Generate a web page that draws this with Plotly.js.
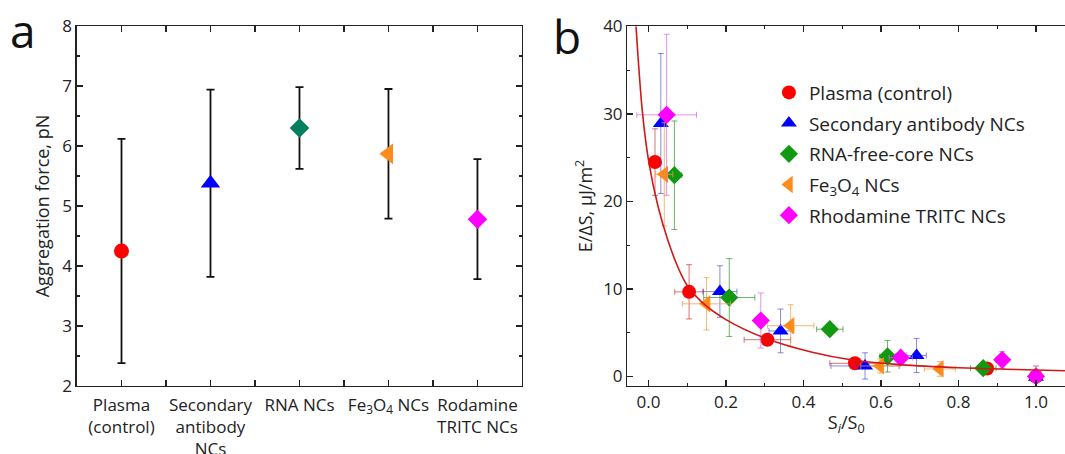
<!DOCTYPE html>
<html>
<head>
<meta charset="utf-8">
<script src="https://cdn.plot.ly/plotly-3.0.1.min.js"></script>
<style>html,body{margin:0;padding:0;background:#fff;}#chart{width:1065px;height:454px;}</style>
</head>
<body>
<div id="chart"></div>
<script>
// ---------- Panel a data ----------
const categoriesA = ["Plasma<br>(control)", "Secondary<br>antibody<br>NCs", "RNA NCs", "Fe<sub>3</sub>O<sub>4</sub> NCs", "Rodamine<br>TRITC NCs"];
const forceA = [4.25, 5.38, 6.30, 5.87, 4.78];
const forceErrA = [1.87, 1.56, 0.68, 1.08, 1.00];
const colorsA = ["#FF0000", "#0000FF", "#008060", "#FF8C1A", "#FF00FF"];
const symbolsA = ["circle", "triangle-up", "diamond", "triangle-left", "diamond"];

// ---------- Panel b data ----------
const plasmaX = [0.017, 0.105, 0.307, 0.533, 0.874, 1.0];
const plasmaY = [24.5, 9.67, 4.2, 1.5, 0.9, 0.0];
const plasmaXerr = [0, 0.037, 0.06, 0.065, 0, 0];
const plasmaYerr = [3.8, 3.1, 0.4, 0.4, 0.4, 1.2];

const secX = [0.032, 0.1845, 0.341, 0.559, 0.692, 1.0];
const secY = [28.9, 9.7, 5.2, 1.2, 2.4, -0.1];
const secXerr = [0, 0.044, 0.03, 0.088, 0.025, 0];
const secYerr = [8.0, 2.95, 2.5, 1.5, 1.95, 0.3];

const rnaX = [0.067, 0.2086, 0.468, 0.617, 0.864];
const rnaY = [23.0, 9.02, 5.4, 2.3, 0.95];
const rnaXerr = [0.019, 0.066, 0.034, 0.02, 0.033];
const rnaYerr = [6.2, 4.45, 0.3, 1.8, 0.3];

const feX = [0.041, 0.15, 0.367, 0.598, 0.752];
const feY = [23.1, 8.3, 5.8, 1.2, 0.86];
const feXerr = [0.022, 0.062, 0.06, 0.05, 0.04];
const feYerr = [5.9, 3.0, 2.4, 0.8, 0.85];

const rhoX = [0.047, 0.29, 0.651, 0.913, 1.0];
const rhoY = [29.9, 6.39, 2.15, 1.9, 0.0];
const rhoXerr = [0.077, 0, 0.03, 0, 0];
const rhoYerr = [9.2, 3.15, 0.5, 0.95, 0.3];

// fitted curve, points
const fitX = [-0.032, -0.015, 0.001, 0.025, 0.05, 0.075, 0.10, 0.14, 0.20, 0.30, 0.42, 0.53, 0.65, 0.80, 0.95, 1.075];
const fitY = [40, 30.0, 24.5, 19.4, 15.6, 12.6, 10.4, 8.4, 6.5, 4.4, 2.8, 1.85, 1.35, 1.0, 0.8, 0.65];

const FONT = "Open Sans, Noto Sans, sans-serif";
const catIdx = categoriesA.map((c, i) => i);

function series(name, x, y, xe, ye, color, errColor, symbol, size) {
  return {
    type: "scatter", mode: "markers", name: name, x: x, y: y,
    xaxis: "x2", yaxis: "y2", legendgroup: name,
    marker: {color: color, symbol: symbol, size: size, opacity: 1, line: {width: 0}},
    error_x: {type: "data", array: xe, visible: true, color: errColor, thickness: 1, width: 3},
    error_y: {type: "data", array: ye, visible: true, color: errColor, thickness: 1, width: 3}
  };
}

const traces = [
  {
    type: "scatter", mode: "markers", x: catIdx, y: forceA, xaxis: "x", yaxis: "y",
    showlegend: false,
    marker: {color: colorsA, symbol: symbolsA, size: [15, 17, 15, 18, 15], opacity: 1, line: {width: 0}},
    error_y: {type: "data", array: forceErrA, visible: true, color: "#111", thickness: 1.8, width: 4}
  },
  series("Plasma (control)", plasmaX, plasmaY, plasmaXerr, plasmaYerr, "#FF0000", "rgba(200,40,40,0.65)", "circle", 14),
  series("Secondary antibody NCs", secX, secY, secXerr, secYerr, "#0000FF", "rgba(60,60,200,0.6)", "triangle-up", 14),
  series("RNA-free-core NCs", rnaX, rnaY, rnaXerr, rnaYerr, "#119911", "rgba(30,140,30,0.65)", "diamond", 14),
  series("Fe<sub>3</sub>O<sub>4</sub> NCs", feX, feY, feXerr, feYerr, "#FF8C1A", "rgba(240,160,70,0.75)", "triangle-left", 15),
  series("Rhodamine TRITC NCs", rhoX, rhoY, rhoXerr, rhoYerr, "#FF00FF", "rgba(220,110,220,0.75)", "diamond", 14),
  {
    type: "scatter", mode: "lines", x: fitX, y: fitY, xaxis: "x2", yaxis: "y2",
    showlegend: false, line: {color: "#D01818", width: 1.6, shape: "spline", smoothing: 1.0}
  }
];

const axisCommon = {
  showline: true, linewidth: 1.5, linecolor: "#222", showgrid: false, zeroline: false,
  ticks: "inside", ticklen: 6, tickwidth: 1.3, tickcolor: "#222",
  tickfont: {family: FONT, size: 17, color: "#222"}
};

const layout = {
  width: 1065, height: 454,
  margin: {l: 0, r: 0, t: 0, b: 0},
  paper_bgcolor: "#fff", plot_bgcolor: "#fff",
  font: {family: FONT, size: 16, color: "#222"},
  showlegend: true,
  xaxis: Object.assign({}, axisCommon, {
    domain: [0.0723, 0.4901], range: [-0.5, 4.5], anchor: "y",
    tickmode: "array", tickvals: catIdx, ticktext: categoriesA, mirror: "ticks",
    tickfont: {family: FONT, size: 17, color: "#222"}, ticklabelstandoff: 3,
    minor: {tickmode: "array", tickvals: [0.5, 1.5, 2.5, 3.5], ticks: "inside", ticklen: 6, tickwidth: 1.3, tickcolor: "#222"}
  }),
  yaxis: Object.assign({}, axisCommon, {
    domain: [0.1498, 0.9427], range: [2, 8], anchor: "x", dtick: 1, mirror: "ticks",
    minor: {dtick: 0.5, ticks: "inside", ticklen: 3, tickwidth: 1.3, tickcolor: "#222"},
    title: {text: "Aggregation force, pN", font: {family: FONT, size: 18, color: "#222"}, standoff: 8}
  }),
  xaxis2: Object.assign({}, axisCommon, {
    domain: [0.5892, 1.0], range: [-0.054, 1.075], anchor: "y2", dtick: 0.2, tick0: 0,
    tickformat: ".1f", mirror: "ticks",
    minor: {dtick: 0.1, ticks: "inside", ticklen: 3, tickwidth: 1.3, tickcolor: "#222"},
    title: {text: "S<sub><i>i</i></sub>/S<sub>0</sub>", font: {family: FONT, size: 18, color: "#222"}, standoff: 4}
  }),
  yaxis2: Object.assign({}, axisCommon, {
    domain: [0.1498, 0.9427], range: [-1.09, 40.05], anchor: "x2", dtick: 10, tick0: 0, mirror: false,
    minor: {dtick: 5, ticks: "inside", ticklen: 3, tickwidth: 1.3, tickcolor: "#222"},
    title: {text: "E/ΔS, μJ/m<sup>2</sup>", font: {family: FONT, size: 18, color: "#222"}, standoff: 6}
  }),
  legend: {
    x: 0.722, y: 0.838, xanchor: "left", yanchor: "top",
    bgcolor: "rgba(0,0,0,0)", font: {family: FONT, size: 19, color: "#222"},
    tracegroupgap: 3, itemclick: false
  },
  annotations: [
    {text: "a", xref: "paper", yref: "paper", x: 23 / 1065, y: 1 - 30 / 454, xanchor: "center", yanchor: "middle",
     showarrow: false, font: {family: FONT, size: 46, color: "#111"}},
    {text: "b", xref: "paper", yref: "paper", x: 567 / 1065, y: 1 - 36 / 454, xanchor: "center", yanchor: "middle",
     showarrow: false, font: {family: FONT, size: 46, color: "#111"}}
  ]
};

Plotly.newPlot("chart", traces, layout, {staticPlot: true, displayModeBar: false});
</script>
</body>
</html>
